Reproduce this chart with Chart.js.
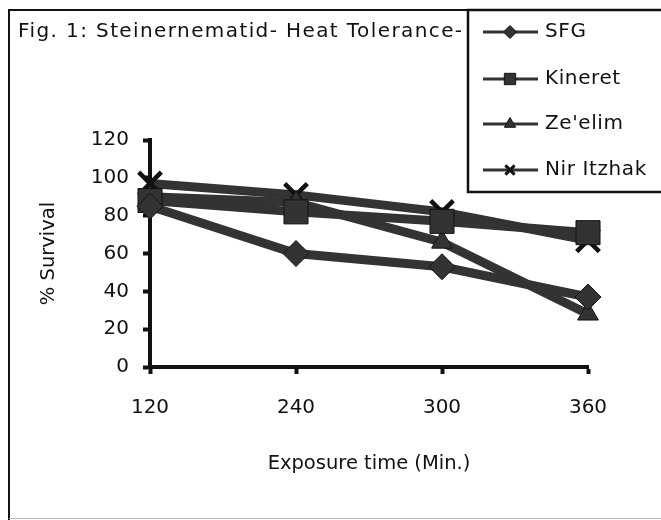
<!DOCTYPE html>
<html>
<head>
<meta charset="utf-8">
<script src="https://cdn.jsdelivr.net/npm/chart.js@4/dist/chart.umd.min.js"></script>
<style>
  html, body { margin: 0; padding: 0; background: #fff; }
  #wrap { width: 661px; height: 520px; position: relative; }
</style>
</head>
<body>
<div id="wrap"><canvas id="chart"></canvas></div>
<script>
const title = 'Fig. 1: Steinernematid- Heat Tolerance-'
const exposureTimes = ['120', '240', '300', '360']
const yTicks = [0, 20, 40, 60, 80, 100, 120]

const sfg = [85, 60, 53, 37]
const kineret = [88, 82, 77, 71]
const zeelim = [90, 87, 66, 28]
const nirItzhak = [97, 91, 82, 67]

const seriesNames = ['SFG', 'Kineret', "Ze'elim", 'Nir Itzhak']
const markers = ['rectRot', 'rect', 'triangle', 'crossRot']
const markerSizes = [13, 17, 12, 16]

const FONT = '"DejaVu Sans", sans-serif'
const INK = '#111'
const LINE = '#333'

function makeSeries(i, data) {
  const cross = markers[i] === 'crossRot'
  return {
    label: seriesNames[i],
    data: data,
    borderColor: LINE,
    borderWidth: 9,
    pointStyle: markers[i],
    pointRadius: markerSizes[i],
    pointBorderColor: INK,
    pointBackgroundColor: LINE,
    pointBorderWidth: cross ? 4.5 : 1,
    tension: 0,
    clip: false
  }
}

// frame, figure title and boxed legend like the scanned figure
const framePlugin = {
  id: 'frame',
  afterDraw(chart) {
    const ctx = chart.ctx
    ctx.save()
    ctx.strokeStyle = INK
    ctx.lineWidth = 2
    ctx.beginPath()
    ctx.moveTo(9, 520)
    ctx.lineTo(9, 10)
    ctx.lineTo(661, 10)
    ctx.stroke()
    ctx.strokeStyle = '#bbb'
    ctx.lineWidth = 1
    ctx.beginPath()
    ctx.moveTo(9, 518.5)
    ctx.lineTo(661, 518.5)
    ctx.stroke()

    ctx.fillStyle = INK
    ctx.font = '20px ' + FONT
    ctx.letterSpacing = '1.4px'
    ctx.textBaseline = 'middle'
    ctx.textAlign = 'left'
    ctx.fillText(title, 18, 32)

    // legend box
    ctx.fillStyle = '#fff'
    ctx.fillRect(468, 10, 200, 182)
    ctx.strokeStyle = INK
    ctx.lineWidth = 2.5
    ctx.strokeRect(468, 10, 200, 182)

    const rows = [32, 79, 124, 170]
    chart.data.datasets.forEach((ds, i) => {
      const y = rows[i]
      ctx.strokeStyle = LINE
      ctx.lineWidth = 3
      ctx.beginPath()
      ctx.moveTo(483, y)
      ctx.lineTo(538, y)
      ctx.stroke()
      ctx.fillStyle = LINE
      ctx.strokeStyle = INK
      ctx.lineWidth = ds.pointStyle === 'crossRot' ? 3 : 1
      const r = ds.pointStyle === 'rect' ? 8 : 6.5
      Chart.helpers.drawPoint(ctx, { pointStyle: ds.pointStyle, radius: r, rotation: 0, borderWidth: ctx.lineWidth }, 510, y)
      ctx.fillStyle = INK
      ctx.font = '20px ' + FONT
      ctx.letterSpacing = '0.6px'
      ctx.fillText(ds.label, 545, y)
    })
    ctx.restore()
  }
}

new Chart(document.getElementById('chart'), {
  type: 'line',
  data: {
    labels: exposureTimes,
    datasets: [
      makeSeries(0, sfg),
      makeSeries(1, kineret),
      makeSeries(2, zeelim),
      makeSeries(3, nirItzhak)
    ]
  },
  options: {
    responsive: true,
    maintainAspectRatio: false,
    animation: false,
    layout: { padding: { left: 0, top: 140, right: 73, bottom: 0 } },
    plugins: {
      legend: { display: false },
      tooltip: { enabled: false }
    },
    scales: {
      x: {
        type: 'category',
        offset: false,
        afterFit(scale) { scale.height = 153 },
        border: { color: INK, width: 4 },
        grid: { drawOnChartArea: false, drawTicks: true, tickLength: 7, tickColor: INK, tickWidth: 4 },
        ticks: { color: INK, font: { family: FONT, size: 20 }, padding: 22, maxRotation: 0 },
        title: {
          display: true,
          text: 'Exposure time (Min.)',
          color: INK,
          font: { family: FONT, size: 19.5 },
          padding: { top: 0, bottom: 44 }
        }
      },
      y: {
        min: 0,
        max: 120,
        afterFit(scale) { scale.width = 150 },
        afterBuildTicks(scale) { scale.ticks = yTicks.map(v => ({ value: v })) },
        border: { color: INK, width: 4 },
        grid: { drawOnChartArea: false, drawTicks: true, tickLength: 7, tickColor: INK, tickWidth: 4 },
        ticks: { color: INK, font: { family: FONT, size: 20 }, padding: 14 },
        title: {
          display: true,
          text: '% Survival',
          color: INK,
          font: { family: FONT, size: 19.5 },
          padding: { top: 37, bottom: 0 }
        }
      }
    }
  },
  plugins: [framePlugin]
})
</script>
</body>
</html>
